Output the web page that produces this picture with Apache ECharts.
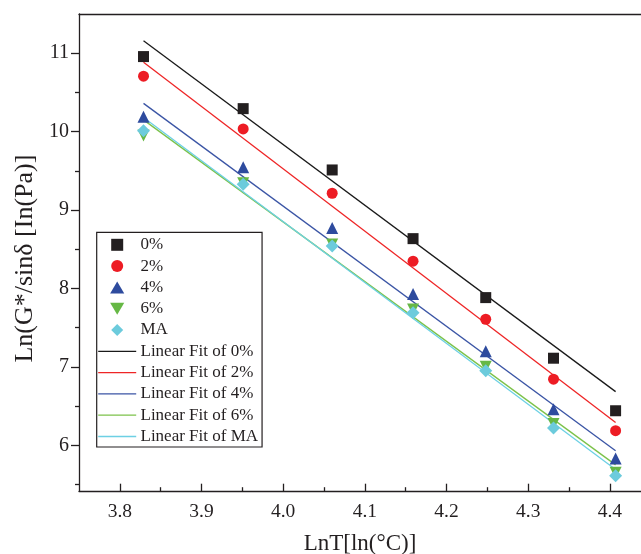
<!DOCTYPE html>
<html>
<head>
<meta charset="utf-8">
<script src="https://cdn.jsdelivr.net/npm/echarts@6/dist/echarts.min.js"></script>
<style>
html,body{margin:0;padding:0;background:#fff;}
#chart{width:641px;height:554px;}
</style>
</head>
<body>
<div id="chart"></div>
<script>
// ln(T) positions of the measurements
var lnT = [3.829, 3.951, 4.060, 4.159, 4.248, 4.331, 4.407];
var s0  = [10.957, 10.293, 9.511, 8.635, 7.883, 7.110, 6.440];
var s2  = [10.707, 10.034, 9.214, 8.347, 7.607, 6.842, 6.186];
var s4  = [10.19, 9.546, 8.77, 7.93, 7.20, 6.46, 5.83];
var s6  = [9.95, 9.34, 8.56, 7.73, 7.00, 6.27, 5.65];
var sMA = [10.01, 9.33, 8.54, 7.69, 6.95, 6.22, 5.61];
// linear fit end points (at first and last lnT)
var fitX  = [3.829, 4.407];
var fit0  = [11.16, 6.684];
var fit2  = [10.885, 6.29];
var fit4  = [10.36, 5.93];
var fit6  = [10.15, 5.75];
var fitMA = [10.18, 5.69];
var names = ['0%', '2%', '4%', '6%', 'MA'];
var fitNames = ['Linear Fit of 0%', 'Linear Fit of 2%', 'Linear Fit of 4%', 'Linear Fit of 6%', 'Linear Fit of MA'];
var xTicks = [3.8, 3.9, 4.0, 4.1, 4.2, 4.3, 4.4];
var xMinor = [3.85, 3.95, 4.05, 4.15, 4.25, 4.35];
var yTicks = [6, 7, 8, 9, 10, 11];
var yMinor = [5.5, 6.5, 7.5, 8.5, 9.5, 10.5];

var FONT = '"Liberation Serif", "Times New Roman", serif';
var AX = '#231f20';

function pairs(xs, ys) { return xs.map(function (x, i) { return [x, ys[i]]; }); }

var markerCols = ['#231f20', '#ed1c24', '#2e4b9e', '#66b845', '#6ccbdc'];
var symbols = ['rect', 'circle', 'triangle', 'triangle', 'diamond'];
var rotates = [0, 0, 0, 180, 0];
var sizes = [11, 11, 12, 12, 13];
var legendIcons = [
  'path://M0,0H10V10H0Z',
  'circle',
  'path://M10,0L20,17L0,17Z',
  'path://M0,0L20,0L10,17Z',
  'path://M10,0L20,10L10,20L0,10Z'
];
var lineCols = ['#1a1a1a', '#ee2526', '#3b55a5', '#7cc24a', '#6dd0e4'];
var sData = [s0, s2, s4, s6, sMA];
var fData = [fit0, fit2, fit4, fit6, fitMA];

var series = [];
fData.forEach(function (f, i) {
  series.push({
    name: fitNames[i], type: 'line', data: pairs(fitX, f),
    symbol: 'none', showSymbol: false, z: 2, silent: true,
    lineStyle: { color: lineCols[i], width: 1.3 },
    itemStyle: { color: lineCols[i] }
  });
});
sData.forEach(function (s, i) {
  series.push({
    name: names[i], type: 'scatter', data: pairs(lnT, s),
    symbol: symbols[i], symbolRotate: rotates[i], symbolSize: sizes[i], z: 3,
    itemStyle: { color: markerCols[i], opacity: 1 }
  });
});

var legendData = names.map(function (n, i) {
  return { name: n, icon: legendIcons[i], symbolRotate: 0 };
}).concat(fitNames.map(function (n, i) {
  return { name: n, icon: 'path://M0,0H380V13H0Z', symbolRotate: 0, itemStyle: { color: lineCols[i] } };
}));

var chart = echarts.init(document.getElementById('chart'), null, { renderer: 'canvas' });
chart.setOption({
  animation: false,
  backgroundColor: '#fff',
  grid: { left: 79, top: 14, right: 0, bottom: 62.8, containLabel: false, outerBoundsMode: 'none' },
  xAxis: [{
    type: 'value', min: 3.75, max: 4.4381, position: 'bottom',
    name: 'LnT[ln(°C)]', nameLocation: 'middle', nameGap: 41,
    nameTextStyle: { fontFamily: FONT, fontSize: 23, color: AX },
    axisLine: { show: true, lineStyle: { color: AX, width: 1.3 } },
    axisTick: { show: true, inside: true, length: 7.5, customValues: xTicks, lineStyle: { color: AX, width: 1.3 } },
    axisLabel: { customValues: xTicks, fontFamily: FONT, fontSize: 19.5, color: AX, margin: 11,
      formatter: function (v) { return v.toFixed(1); } },
    splitLine: { show: false }
  }, {
    type: 'value', min: 3.75, max: 4.4381, position: 'bottom',
    axisLine: { show: false },
    axisTick: { show: true, inside: true, length: 4, customValues: xMinor, lineStyle: { color: AX, width: 1.3 } },
    axisLabel: { show: false }, splitLine: { show: false }
  }, {
    type: 'value', min: 3.75, max: 4.4381, position: 'top',
    axisLine: { show: true, lineStyle: { color: AX, width: 1.3 } },
    axisTick: { show: false }, axisLabel: { show: false }, splitLine: { show: false }
  }],
  yAxis: [{
    type: 'value', min: 5.414, max: 11.5, position: 'left',
    name: 'Ln(G*/sinδ [In(Pa)]', nameLocation: 'middle', nameGap: 37, nameRotate: 90,
    nameTextStyle: { fontFamily: FONT, fontSize: 26, color: AX, padding: [0, 12, 0, 0] },
    axisLine: { show: true, lineStyle: { color: AX, width: 1.3 } },
    axisTick: { show: true, inside: false, length: 8, customValues: yTicks, lineStyle: { color: AX, width: 1.3 } },
    axisLabel: { customValues: yTicks, fontFamily: FONT, fontSize: 20, color: AX, margin: 10 },
    splitLine: { show: false }
  }, {
    type: 'value', min: 5.414, max: 11.5, position: 'left',
    axisLine: { show: false },
    axisTick: { show: true, inside: false, length: 4, customValues: yMinor, lineStyle: { color: AX, width: 1.3 } },
    axisLabel: { show: false }, splitLine: { show: false }
  }],
  legend: {
    orient: 'vertical', left: 96.7, top: 232.3,
    data: legendData,
    itemWidth: 38, itemHeight: 12, itemGap: 4.3,
    symbolKeepAspect: true,
    padding: [4, 4, 2, 1.5],
    borderColor: '#231f20', borderWidth: 1.2, backgroundColor: '#fff',
    textStyle: { fontFamily: FONT, fontSize: 17, color: AX, lineHeight: 17, padding: [0, 0, 0, -0.7] },
    selectedMode: false
  },
  series: series
});
</script>
</body>
</html>
